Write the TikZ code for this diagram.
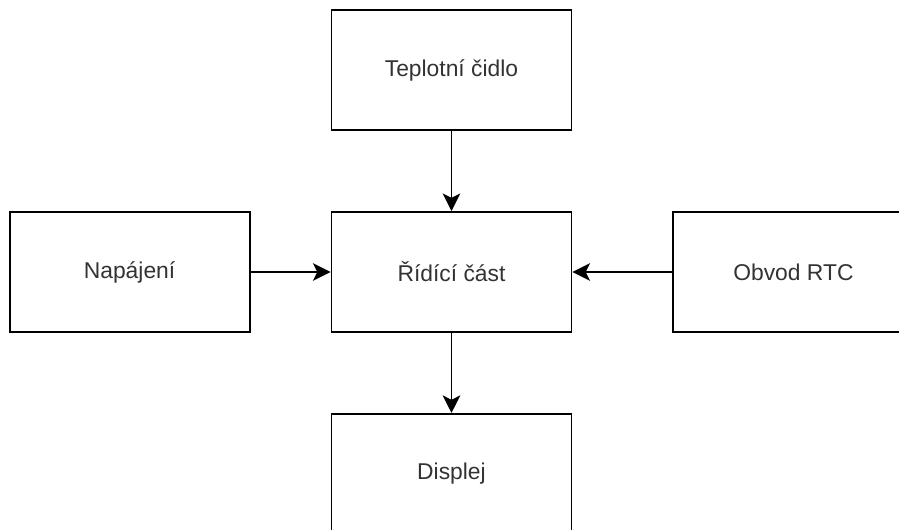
\documentclass[tikz,border=0pt]{standalone}
\usepackage{fontspec}
\setmainfont{Liberation Sans}
\usepackage{xcolor}
\usetikzlibrary{arrows.meta, positioning}
\definecolor{TextGray}{RGB}{51,51,51}

\begin{document}
\begin{tikzpicture}[
  box/.style={draw=black, line width=1.1pt, fill=white,
              minimum width=4.8cm, minimum height=2.4cm,
              font=\fontsize{13pt}{15pt}\selectfont, text=TextGray,
              align=center},
  arr/.style={-{Stealth[length=10pt, width=10pt, inset=2.5pt]},
              black, line width=1.1pt},
]
\useasboundingbox (-9.03,-5.14) rectangle (8.95,5.44);
\clip (-9.03,-5.14) rectangle (8.95,5.44);

\node[box] (ridici) at (0,0) {Řídící část};
\node[box, above=1.6cm of ridici] (cidlo)   {Teplotní čidlo};
\node[box, left=1.6cm of ridici]  (napajeni) {Napájení};
\node[box, right=2cm of ridici]   (rtc)     {Obvod RTC};
\node[box, below=1.6cm of ridici] (displej) {Displej};

\draw[arr] (cidlo)--(ridici);
\draw[arr] (napajeni)--(ridici);
\draw[arr] (rtc)--(ridici);
\draw[arr] (ridici)--(displej);
\end{tikzpicture}
\end{document}
